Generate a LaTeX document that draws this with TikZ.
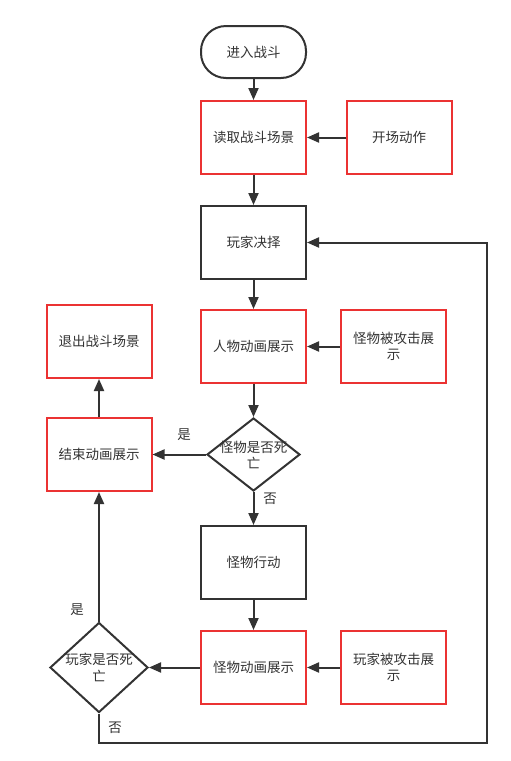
\documentclass[tikz,border=0pt]{standalone}
\usepackage{fontspec}
\setmainfont{Noto Sans CJK SC}
\usetikzlibrary{arrows.meta,shapes.geometric}
\definecolor{ink}{RGB}{51,51,51}
\definecolor{redline}{RGB}{235,50,50}
\begin{document}
\begin{tikzpicture}[x=1pt,y=-1pt,
  every node/.style={font=\fontsize{13.5pt}{16.5pt}\selectfont, text=ink},
  box/.style={rectangle, draw=ink, line width=2pt, minimum width=105pt, minimum height=73pt, inner sep=0pt, align=center},
  redbox/.style={box, draw=redline},
  term/.style={rectangle, rounded corners=25pt, draw=ink, line width=2pt, minimum width=105pt, minimum height=52pt, inner sep=0pt},
  dia/.style={diamond, draw=ink, line width=2pt, inner sep=0pt},
  lbl/.style={inner sep=0pt, align=center},
  conn/.style={draw=ink, line width=2pt, -{Triangle[length=12pt,width=10pt]}}
]
\useasboundingbox (0,0) rectangle (511,761);

\node[term] (start) at (253.5,52) {进入战斗};
\node[redbox] (read) at (253.5,137.5) {读取战斗场景};
\node[redbox] (open) at (399,137.5) {开场动作};
\node[box] (decide) at (253.5,242.5) {玩家决择};
\node[redbox] (ranim) at (253.5,346.5) {人物动画展示};
\node[redbox] (mhit) at (393.5,346.5) {怪物被攻击展\\示};
\node[redbox] (exit) at (99,341.5) {退出战斗场景};
\node[redbox] (endanim) at (99,454.5) {结束动画展示};
\node[dia, minimum width=93pt, minimum height=73pt] (d1) at (253.5,454.5) {};
\node[lbl] (d1t) at (253.5,455) {怪物是否死\\亡};
\node[box] (mact) at (253.5,562.5) {怪物行动};
\node[redbox] (manim) at (253.5,667.5) {怪物动画展示};
\node[redbox] (phit) at (393.5,667.5) {玩家被攻击展\\示};
\node[dia, minimum width=98pt, minimum height=90pt] (d2) at (99,667.5) {};
\node[lbl] (d2t) at (99,667.5) {玩家是否死\\亡};

\node[lbl] (yes1) at (184,435) {是};
\node[lbl] (no1) at (270,499) {否};
\node[lbl] (yes2) at (77,610) {是};
\node[lbl] (no2) at (115,728) {否};

\coordinate (c2) at (487,743);

\draw[conn] (start) -- (read);
\draw[conn] (open) -- (read);
\draw[conn] (read) -- (decide);
\draw[conn] (decide) -- (ranim);
\draw[conn] (mhit) -- (ranim);
\draw[conn] (ranim) -- (d1);
\draw[conn] (d1) -- (endanim);
\draw[conn] (d1) -- (mact);
\draw[conn] (endanim) -- (exit);
\draw[conn] (mact) -- (manim);
\draw[conn] (phit) -- (manim);
\draw[conn] (manim) -- (d2);
\draw[conn] (d2) -- (endanim);
\draw[conn] (d2.south) |- (c2) |- (decide.east);
\end{tikzpicture}
\end{document}
